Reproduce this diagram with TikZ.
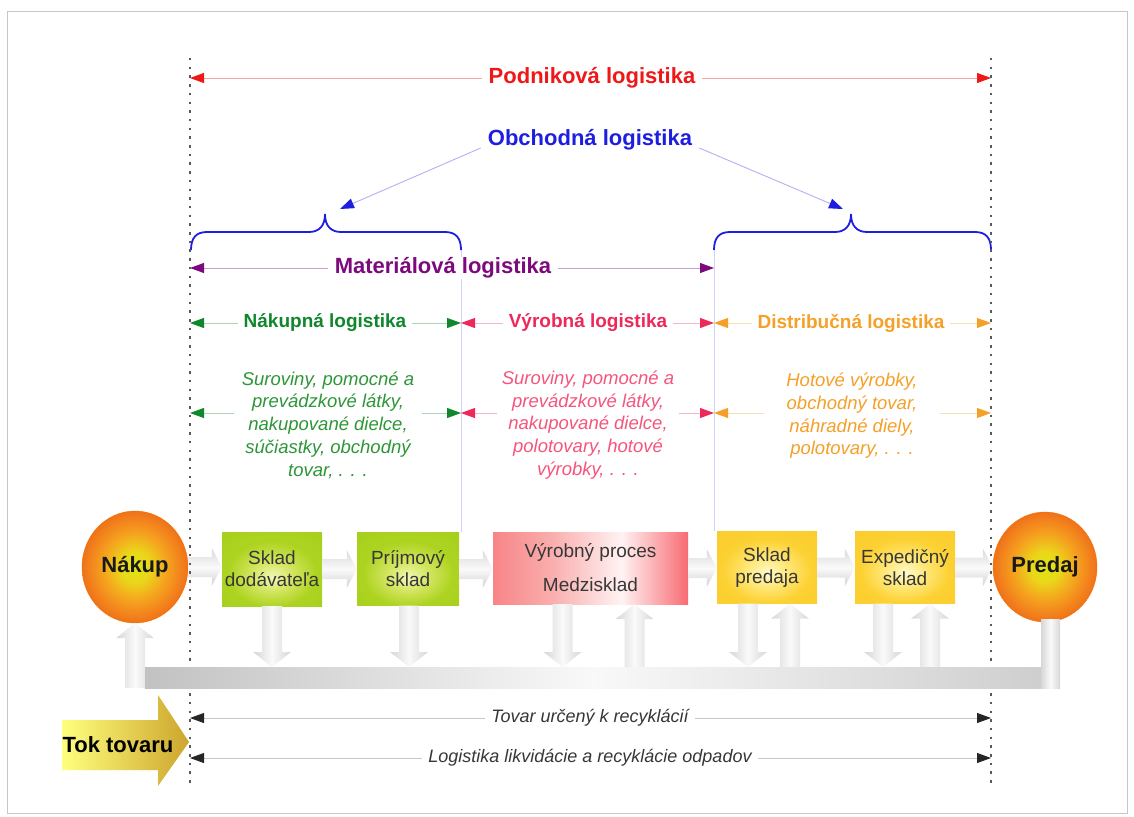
\documentclass[tikz,border=0pt]{standalone}
\usepackage{fontspec}
\setmainfont{Liberation Sans}
\usetikzlibrary{arrows.meta,calc,shapes.geometric}

\definecolor{cRed}{RGB}{238,24,24}
\definecolor{cBlue}{RGB}{30,30,225}
\definecolor{cPurple}{RGB}{125,10,125}
\definecolor{cGreen}{RGB}{15,135,45}
\definecolor{cGreenIt}{RGB}{45,150,55}
\definecolor{cPink}{RGB}{238,40,90}
\definecolor{cPinkIt}{RGB}{245,85,125}
\definecolor{cOrange}{RGB}{245,160,40}
\definecolor{cTxt}{RGB}{55,55,55}
\definecolor{tokL}{RGB}{255,255,125}
\definecolor{tokR}{RGB}{205,165,45}

\pgfdeclareradialshading{ballsh}{\pgfpoint{0bp}{0bp}}{rgb(0bp)=(0.87,0.9,0.08); rgb(7bp)=(0.92,0.84,0.1); rgb(15bp)=(0.96,0.64,0.12); rgb(22bp)=(0.95,0.5,0.11); rgb(25bp)=(0.93,0.45,0.1); rgb(50bp)=(0.93,0.45,0.1)}
\pgfdeclareradialshading{greensh}{\pgfpoint{0bp}{-6bp}}{rgb(0bp)=(0.95,0.97,0.72); rgb(10bp)=(0.83,0.9,0.38); rgb(22bp)=(0.68,0.83,0.13); rgb(50bp)=(0.62,0.8,0.1)}
\pgfdeclareradialshading{yellowsh}{\pgfpoint{0bp}{-4bp}}{rgb(0bp)=(1,0.98,0.8); rgb(10bp)=(1,0.91,0.48); rgb(22bp)=(0.99,0.82,0.2); rgb(50bp)=(0.98,0.78,0.15)}
\pgfdeclarehorizontalshading{pinksh}{100bp}{rgb(0bp)=(0.97,0.52,0.53); rgb(25bp)=(0.97,0.52,0.53); rgb(40bp)=(0.98,0.68,0.68); rgb(58bp)=(1,0.95,0.95); rgb(75bp)=(0.97,0.42,0.45); rgb(100bp)=(0.97,0.42,0.45)}

\newcommand\harr[2]{\shade[top color=gray!30,bottom color=gray!35,middle color=gray!4]
  let \p1=(#1), \p2=(#2) in (\x1,\y1+10pt) -- (\x2-10pt,\y1+10pt) -- (\x2-10pt,\y1+19pt) -- (\x2,\y1) -- (\x2-10pt,\y1-19pt) -- (\x2-10pt,\y1-10pt) -- (\x1,\y1-10pt) -- cycle;}
\newcommand\darr[3]{\shade[left color=gray!32,right color=gray!32,middle color=gray!4]
  let \p1=($(#1)+(#2,0)$), \p2=(#3) in (\x1-10pt,\y1) -- (\x1+10pt,\y1) -- (\x1+10pt,\y2+15pt) -- (\x1+19pt,\y2+15pt) -- (\x1,\y2) -- (\x1-19pt,\y2+15pt) -- (\x1-10pt,\y2+15pt) -- cycle;}
\newcommand\uarr[3]{\shade[left color=gray!32,right color=gray!32,middle color=gray!4]
  let \p1=($(#1)+(#2,0)$), \p2=(#3) in (\x1-10pt,\y2) -- (\x1+10pt,\y2) -- (\x1+10pt,\y1-15pt) -- (\x1+19pt,\y1-15pt) -- (\x1,\y1) -- (\x1-19pt,\y1-15pt) -- (\x1-10pt,\y1-15pt) -- cycle;}

\begin{document}
\begin{tikzpicture}[x=1pt,y=-1pt,
  ttl/.style={font=\bfseries\fontsize{22}{26}\selectfont, fill=white, inner xsep=7pt, inner ysep=1pt},
  sec/.style={font=\bfseries\fontsize{19}{22}\selectfont, fill=white, inner xsep=6pt, inner ysep=1pt},
  itl/.style={font=\itshape\fontsize{18.5}{22.7}\selectfont, fill=white, align=center, inner ysep=2pt},
  dimar/.style 2 args={draw=#1, line width=0.9pt, arrows={Triangle[length=14pt,width=10pt,color=#2]-Triangle[length=14pt,width=10pt,color=#2]}},
  dotline/.style={draw=black!65, line width=2.5pt, dash pattern=on 2.5pt off 6.2pt},
  bracel/.style={draw=cBlue, line width=1.8pt},
  faint/.style={draw=blue!18, line width=0.6pt},
  orb/.style={ellipse, shade, shading=ballsh, draw=orange!85!red, line width=0.4pt, minimum width=106pt, minimum height=112pt, inner sep=0pt, font=\bfseries\fontsize{22}{26}\selectfont, text=black!90},
  boxtxt/.style={rectangle, inner sep=0pt, align=center, font=\fontsize{19}{22}\selectfont, text=cTxt},
  boxg/.style={boxtxt, shade, shading=greensh, minimum width=100pt, minimum height=74pt},
  boxy/.style={boxtxt, shade, shading=yellowsh, minimum width=100pt, minimum height=72pt},
  boxp/.style={boxtxt, shade, shading=pinksh, minimum width=195pt, minimum height=72pt}
]
\useasboundingbox (0,0) rectangle (1134,816);
\draw[gray!45, line width=1pt] (7.5,12) rectangle (1127,813);

% coordinates
\coordinate (dTL) at (190,58);  \coordinate (dBL) at (190,786);
\coordinate (dTR) at (991,58);  \coordinate (dBR) at (991,786);
\coordinate (p1) at (190,78);   \coordinate (p2) at (991,78);
\coordinate (m1) at (190,268);  \coordinate (m2) at (714,268);
\coordinate (s1) at (190,323);  \coordinate (s2) at (461,323);
\coordinate (s3) at (714,323);  \coordinate (s4) at (991,323);
\coordinate (t1) at (190,413);  \coordinate (t2) at (461,413);
\coordinate (t3) at (714,413);  \coordinate (t4) at (991,413);
\coordinate (r1) at (190,718);  \coordinate (r2) at (991,718);
\coordinate (q1) at (190,758);  \coordinate (q2) at (991,758);
\coordinate (fA1) at (461,250); \coordinate (fA2) at (461,532);
\coordinate (fB1) at (714,250); \coordinate (fB2) at (714,531);
\coordinate (lbt) at (325,214); \coordinate (rbt) at (851,214);
\coordinate (bartop) at (0,667); \coordinate (barbot) at (0,688);

% faint separators
\draw[faint] (fA1) -- (fA2);
\draw[faint] (fB1) -- (fB2);

% braces
\draw[bracel] (191,250) .. controls (191,238) and (196,232) .. (207,232) -- (309,232)
  .. controls (319,232) and (325,226) .. (lbt) .. controls (325,226) and (331,232) .. (341,232)
  -- (445,232) .. controls (456,232) and (461,238) .. (461,250);
\draw[bracel] (714,250) .. controls (714,238) and (719,232) .. (730,232) -- (835,232)
  .. controls (845,232) and (851,226) .. (rbt) .. controls (851,226) and (857,232) .. (867,232)
  -- (975,232) .. controls (986,232) and (991,238) .. (991,250);

% Podnikova
\draw[dimar={cRed!40}{cRed}] (p1) -- (p2);
\node[ttl, text=cRed] (podn) at (592,78) {Podniková logistika};

% Obchodna
\node[ttl, text=cBlue] (obch) at (590,140) {Obchodná logistika};
\draw[draw=cBlue!35, line width=0.9pt, arrows={-Triangle[length=14pt,width=10pt,color=cBlue]}]
  ([yshift=-8pt]obch.west) -- ($(lbt)+(15,-5)$);
\draw[draw=cBlue!35, line width=0.9pt, arrows={-Triangle[length=14pt,width=10pt,color=cBlue]}]
  ([yshift=-8pt]obch.east) -- ($(rbt)+(-8,-5)$);

% Materialova
\draw[dimar={cPurple!40}{cPurple}] (m1) -- (m2);
\node[ttl, text=cPurple] (mat) at (443,268) {Materiálová logistika};

% sections
\draw[dimar={cGreen!35}{cGreen}] (s1) -- (s2);
\draw[dimar={cPink!35}{cPink}] (s2) -- (s3);
\draw[dimar={cOrange!35}{cOrange}] (s3) -- (s4);
\node[sec, text=cGreen] (nak) at (325,323) {Nákupná logistika};
\node[sec, text=cPink] (vyr) at (588,323) {Výrobná logistika};
\node[sec, text=cOrange] (dis) at (851,323) {Distribučná logistika};

\draw[dimar={cGreen!35}{cGreen}] (t1) -- (t2);
\draw[dimar={cPink!35}{cPink}] (t2) -- (t3);
\draw[dimar={cOrange!35}{cOrange}] (t3) -- (t4);
\node[itl, text=cGreenIt, inner xsep=8pt] (itg) at (328,425) {Suroviny, pomocné a\\prevádzkové látky,\\nakupované dielce,\\súčiastky, obchodný\\tovar, . . .};
\node[itl, text=cPinkIt, inner xsep=5pt] (itp) at (588,425) {Suroviny, pomocné a\\prevádzkové látky,\\nakupované dielce,\\polotovary, hotové\\výrobky, . . .};
\node[itl, text=cOrange, inner xsep=22pt] (ito) at (852,416) {Hotové výrobky,\\obchodný tovar,\\náhradné diely,\\polotovary, . . .};

% bottom dimension lines
\draw[dimar={gray!45}{black!85}] (r1) -- (r2);
\draw[dimar={gray!45}{black!85}] (q1) -- (q2);
\node[itl, text=cTxt, font=\itshape\fontsize{18}{21}\selectfont, inner xsep=6pt, inner ysep=0pt] (rec1) at (590,718) {Tovar určený k recyklácií};
\node[itl, text=cTxt, font=\itshape\fontsize{18}{21}\selectfont, inner xsep=6pt, inner ysep=0pt] (rec2) at (590,758) {Logistika likvidácie a recyklácie odpadov};

% main nodes
\node[orb] (nakup) at (135,567) {Nákup};
\node[orb, minimum width=104pt, minimum height=110pt] (predaj) at (1045,567) {Predaj};
\node[boxg] (b1) at (272,569) {Sklad\\dodávateľa};
\node[boxg, minimum width=102pt, minimum height=73pt] (b2) at (408,569) {Príjmový\\sklad};
\node[boxp] (b3) at (590.5,568) {Výrobný proces\\[12pt]Medzisklad};
\node[boxy] (b4) at (767,567.5) {Sklad\\predaja};
\node[boxy] (b5) at (905,567.5) {Expedičný\\sklad};

% Tok tovaru
\shade[left color=tokL, right color=tokR] (62,720) -- (158,720) -- (158,695) -- (189,742) -- (158,786) -- (158,770) -- (62,770) -- cycle;
\node[font=\bfseries\fontsize{22}{26}\selectfont, text=black] (tok) at (118,745) {Tok tovaru};

% grey block arrows
\harr{nakup.east}{b1.west}
\harr{b1.east}{b2.west}
\harr{b2.east}{b3.west}
\harr{b3.east}{b4.west}
\harr{b4.east}{b5.west}
\harr{b5.east}{predaj.west}
\darr{b1.south}{0}{bartop}
\darr{b2.south}{1}{bartop}
\darr{b3.south}{-28}{bartop}
\uarr{b3.south}{44}{bartop}
\darr{b4.south}{-19}{bartop}
\uarr{b4.south}{23}{bartop}
\darr{b5.south}{-22}{bartop}
\uarr{b5.south}{25}{bartop}
\uarr{nakup.south}{0}{barbot}

% dotted boundaries
\draw[dotline] (dTL) -- (dBL);
\draw[dotline] (dTR) -- (dBR);

% return bar
\shade[left color=gray!48, right color=gray!38, middle color=gray!5]
  let \p1=(nakup.south), \p2=(predaj.south), \p3=(bartop), \p4=(barbot) in (\x1+10pt,\y3) rectangle (\x2-4pt,\y4);
\shade[left color=gray!32, right color=gray!32, middle color=gray!4]
  let \p1=(predaj.south), \p2=(barbot) in (\x1-4pt,\y1+3pt) rectangle (\x1+15pt,\y2);
\end{tikzpicture}
\end{document}
